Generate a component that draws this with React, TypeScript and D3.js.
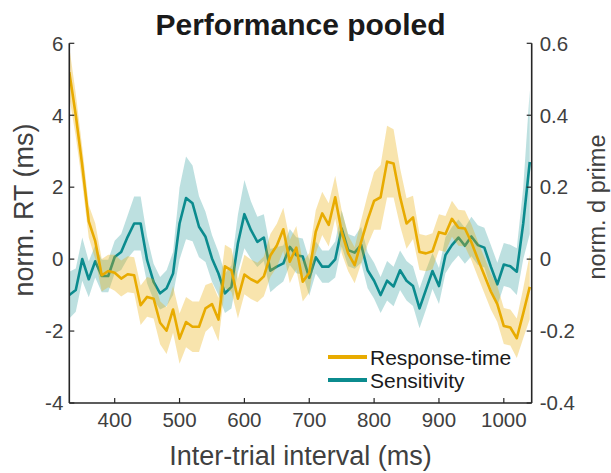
import React from 'react';
import * as d3 from 'd3';

// inter-trial interval bins (ms)
const intervals = [
  330, 340, 350, 360, 370, 380, 390, 400, 410, 420,
  430, 440, 450, 460, 470, 480, 490, 500, 510, 520,
  530, 540, 550, 560, 570, 580, 590, 600, 610, 620,
  630, 640, 650, 660, 670, 680, 690, 700, 710, 720,
  730, 740, 750, 760, 770, 780, 790, 800, 810, 820,
  830, 840, 850, 860, 870, 880, 890, 900, 910, 920,
  930, 940, 950, 960, 970, 980, 990, 1000, 1010, 1020,
  1030, 1040,
];

// normalised response time (ms), left axis
const rtMean = [
  5.2, 4.0, 2.6, 1.05, 0.5, -0.45, -0.33, -0.38, -0.54, -0.42,
  -0.45, -1.28, -1.05, -1.1, -1.77, -1.99, -1.4, -2.21, -1.75, -1.88,
  -1.88, -1.37, -1.25, -1.68, -0.2, -0.31, -1.1, -0.43, -0.56, -0.65,
  -0.48, 0.1, 0.38, 0.83, -0.07, 0.32, -0.63, -0.38, 0.76, 1.27,
  0.95, 1.72, 0.76, 0.16, -0.17, 0.48, 1.09, 1.62, 1.72, 2.71,
  2.66, 1.73, 0.99, 1.16, 0.2, 0.16, 0.22, 0.75, 0.7, 1.12,
  0.87, 0.85, 0.47, 0.0, -0.45, -0.9, -1.25, -1.86, -1.9, -2.2,
  -1.5, -0.77,
];
const rtErr = [
  0.7, 0.6, 0.5, 0.45, 0.5, 0.45, 0.45, 0.5, 0.5, 0.5,
  0.5, 0.55, 0.55, 0.55, 0.6, 0.65, 0.65, 0.7, 0.7, 0.7,
  0.7, 0.65, 0.6, 0.6, 0.6, 0.6, 0.55, 0.55, 0.55, 0.55,
  0.55, 0.6, 0.6, 0.6, 0.6, 0.6, 0.55, 0.55, 0.6, 0.6,
  0.6, 0.6, 0.6, 0.5, 0.5, 0.6, 0.7, 0.8, 0.9, 1.0,
  0.95, 0.8, 0.7, 0.6, 0.5, 0.5, 0.5, 0.5, 0.5, 0.5,
  0.5, 0.5, 0.5, 0.5, 0.5, 0.5, 0.5, 0.5, 0.5, 0.55,
  0.7, 0.9,
];

// normalised d prime, right axis
const dpMean = [
  -0.100, -0.086, 0.000, -0.056, -0.006, -0.047, -0.047, 0.006, 0.020, 0.062,
  0.099, 0.099, -0.003, -0.063, -0.095, -0.081, -0.040, 0.099, 0.170, 0.155,
  0.090, 0.062, 0.002, -0.040, -0.095, -0.077, 0.044, 0.125, 0.081, 0.048,
  0.060, -0.032, -0.021, -0.012, 0.034, 0.011, 0.007, -0.052, 0.005, -0.021,
  -0.021, -0.001, 0.085, 0.025, 0.018, 0.040, -0.031, -0.060, -0.100, -0.060,
  -0.076, -0.031, -0.060, -0.075, -0.137, -0.085, -0.033, -0.075, 0.011, 0.039,
  0.060, 0.037, 0.063, 0.039, 0.032, -0.021, -0.070, -0.015, -0.020, -0.035,
  0.100, 0.270,
];
const dpErr = [
  0.065, 0.06, 0.06, 0.05, 0.045, 0.045, 0.045, 0.045, 0.05, 0.06,
  0.075, 0.075, 0.065, 0.05, 0.045, 0.05, 0.06, 0.1, 0.115, 0.105,
  0.085, 0.07, 0.065, 0.06, 0.055, 0.06, 0.08, 0.095, 0.08, 0.07,
  0.065, 0.06, 0.055, 0.05, 0.05, 0.05, 0.05, 0.05, 0.045, 0.045,
  0.045, 0.05, 0.05, 0.045, 0.045, 0.05, 0.05, 0.05, 0.05, 0.055,
  0.055, 0.055, 0.055, 0.055, 0.055, 0.055, 0.05, 0.05, 0.05, 0.05,
  0.05, 0.05, 0.055, 0.055, 0.055, 0.06, 0.06, 0.06, 0.06, 0.065,
  0.1, 0.2,
];

const xTicks = [400, 500, 600, 700, 800, 900, 1000];
const leftTicks = [-4, -2, 0, 2, 4, 6];
const rightTicks = [-0.4, -0.2, 0, 0.2, 0.4, 0.6];
const legendLabels = ['Response-time', 'Sensitivity'];

const W = 611;
const H = 473;
const ORANGE = '#E8AB00';
const TEAL = '#0B8B8E';
const AXIS = '#262626';
const TICKTXT = '#404040';
const FONT = '"Liberation Sans", Arial, Helvetica, sans-serif';

export default function App() {
  const x = d3.scaleLinear().domain([330, 1043]).range([69.3, 531.7]);
  const yL = d3.scaleLinear().domain([-4, 6]).range([403, 43.3]);
  const yR = d3.scaleLinear().domain([-0.4, 0.6]).range([403, 43.3]);

  const idx = intervals.map((_, i) => i);

  const rtArea = d3.area<number>()
    .x(i => x(intervals[i]))
    .y0(i => yL(rtMean[i] - rtErr[i]))
    .y1(i => yL(rtMean[i] + rtErr[i]));
  const rtLine = d3.line<number>()
    .x(i => x(intervals[i]))
    .y(i => yL(rtMean[i]));
  const dpArea = d3.area<number>()
    .x(i => x(intervals[i]))
    .y0(i => yR(dpMean[i] - dpErr[i]))
    .y1(i => yR(dpMean[i] + dpErr[i]));
  const dpLine = d3.line<number>()
    .x(i => x(intervals[i]))
    .y(i => yR(dpMean[i]));

  const [x0, x1] = x.range();
  const [yb, yt] = yL.range();
  const tickLen = 5;

  return (
    <svg width={W} height={H} style={{position: 'absolute', left: 0, top: 0, background: '#fff'}}
      fontFamily={FONT}>
      <defs>
        <clipPath id="plotclip">
          <rect x={x0} y={yt} width={x1 - x0} height={yb - yt} />
        </clipPath>
      </defs>

      <g clipPath="url(#plotclip)">
        <path d={dpArea(idx) || ''} fill={TEAL} fillOpacity={0.27} stroke="none" />
        <path d={dpLine(idx) || ''} fill="none" stroke={TEAL} strokeWidth={2.6} strokeLinejoin="round" />
        <path d={rtArea(idx) || ''} fill={ORANGE} fillOpacity={0.32} stroke="none" />
        <path d={rtLine(idx) || ''} fill="none" stroke={ORANGE} strokeWidth={2.6} strokeLinejoin="round" />
      </g>

      {/* axes */}
      <line x1={x0} x2={x0} y1={yt} y2={yb} stroke={AXIS} strokeWidth={1.6} />
      <line x1={x1} x2={x1} y1={yt} y2={yb} stroke={AXIS} strokeWidth={1.6} />
      <line x1={x0} x2={x1} y1={yb} y2={yb} stroke={AXIS} strokeWidth={1.6} />

      {xTicks.map(t => (
        <g key={'x' + t}>
          <line x1={x(t)} x2={x(t)} y1={yb} y2={yb - tickLen} stroke={AXIS} strokeWidth={1.2} />
          <text x={x(t)} y={yb + 24} textAnchor="middle" fontSize={20.5} fill={TICKTXT}>{t}</text>
        </g>
      ))}
      {leftTicks.map(t => (
        <g key={'l' + t}>
          <line x1={x0} x2={x0 + tickLen} y1={yL(t)} y2={yL(t)} stroke={AXIS} strokeWidth={1.2} />
          <text x={x0 - 6} y={yL(t) + 7.3} textAnchor="end" fontSize={20.5} fill={TICKTXT}>{t}</text>
        </g>
      ))}
      {rightTicks.map(t => (
        <g key={'r' + t}>
          <line x1={x1} x2={x1 - tickLen} y1={yR(t)} y2={yR(t)} stroke={AXIS} strokeWidth={1.2} />
          <text x={x1 + 8} y={yR(t) + 7.3} textAnchor="start" fontSize={20.5} fill={TICKTXT}>
            {t === 0 ? '0' : t.toFixed(1)}
          </text>
        </g>
      ))}

      {/* titles */}
      <text x={(x0 + x1) / 2} y={35} textAnchor="middle" fontSize={30} fontWeight="bold" fill="#1a1a1a">
        Performance pooled
      </text>
      <text x={(x0 + x1) / 2} y={465} textAnchor="middle" fontSize={27} fill={TICKTXT}>
        Inter-trial interval (ms)
      </text>
      <text transform={`translate(33,210) rotate(-90)`} textAnchor="middle" fontSize={27} fill={TICKTXT}>
        norm. RT (ms)
      </text>
      <text transform={`translate(605,207) rotate(-90)`} textAnchor="middle" fontSize={23.5} fill={TICKTXT}>
        norm. d prime
      </text>

      {/* legend */}
      {legendLabels.map((lab, i) => (
        <g key={lab} transform={`translate(0, ${357 + i * 23})`}>
          <line x1={328} x2={367} y1={0} y2={0} stroke={i === 0 ? ORANGE : TEAL} strokeWidth={4} />
          <text x={370} y={7.5} fontSize={21} fill="#1a1a1a">{lab}</text>
        </g>
      ))}
    </svg>
  );
}
